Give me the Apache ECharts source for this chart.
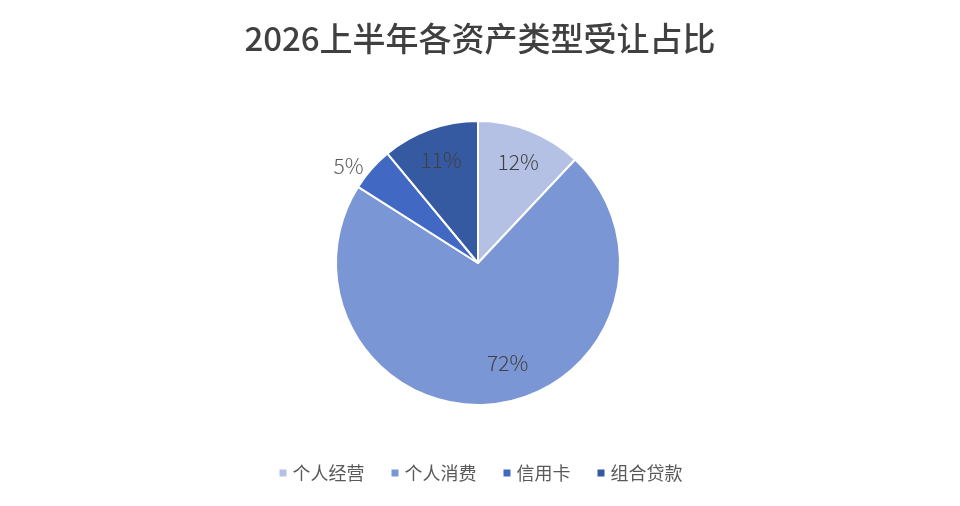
<!DOCTYPE html>
<html>
<head>
<meta charset="utf-8">
<script src="https://cdn.jsdelivr.net/npm/echarts@6/dist/echarts.min.js"></script>
<style>
    html, body {margin:0;padding:0;background:#fff;}
    #chart {width:960px;height:506px;}
</style>
</head>
<body>
<div id="chart"></div>
<script>
    // 数据
    var titleText = '2026上半年各资产类型受让占比';
    var categories = ['个人经营', '个人消费', '信用卡', '组合贷款'];
    var values = [12, 72, 5, 11];
    var colors = ['#b4c1e5', '#7b96d5', '#4169c3', '#355aa1'];
    var outsideNames = ['信用卡'];

    var chart = echarts.init(document.getElementById('chart'));

    var pieData = categories.map(function (name, i) {
        return {name: name, value: values[i], itemStyle: {color: colors[i]}};
    });

    // 透明叠加层只负责放标签
    var labelData = categories.map(function (name, i) {
        var outside = outsideNames.indexOf(name) >= 0;
        var lbl = outside ? {position: 'outside', color: '#595959'} : {position: 'inside', color: '#404040'};
        if (name === '个人消费') lbl.offset = [16, -8];
        return {name: name, value: values[i], label: lbl};
    });

    var option = {
        title: {
            text: titleText,
            left: 'center',
            top: 17,
            textStyle: {
                fontFamily: 'Noto Sans CJK SC',
                fontSize: 33,
                fontWeight: 500,
                color: '#404040'
            }
        },
        legend: {
            data: categories,
            bottom: 19,
            left: 'center',
            icon: 'rect',
            itemWidth: 9,
            itemHeight: 9,
            itemGap: 25,
            textStyle: {
                fontFamily: 'Noto Sans CJK SC',
                fontSize: 18,
                color: '#595959'
            }
        },
        series: [
            {
                type: 'pie',
                center: [478, 263],
                radius: 142,
                startAngle: 90,
                clockwise: true,
                silent: true,
                label: {show: false},
                labelLine: {show: false},
                itemStyle: {borderColor: '#fff', borderWidth: 2},
                data: pieData
            },
            {
                type: 'pie',
                center: [478, 263],
                radius: [70, 142],
                startAngle: 90,
                clockwise: true,
                silent: true,
                itemStyle: {color: 'rgba(0,0,0,0)'},
                label: {
                    show: true,
                    formatter: '{d}%',
                    fontFamily: 'Noto Sans CJK SC',
                    fontSize: 21,
                    fontWeight: 300
                },
                labelLine: {show: false, length: 4, length2: 0},
                data: labelData
            }
        ]
    };
    chart.setOption(option);
</script>
</body>
</html>
